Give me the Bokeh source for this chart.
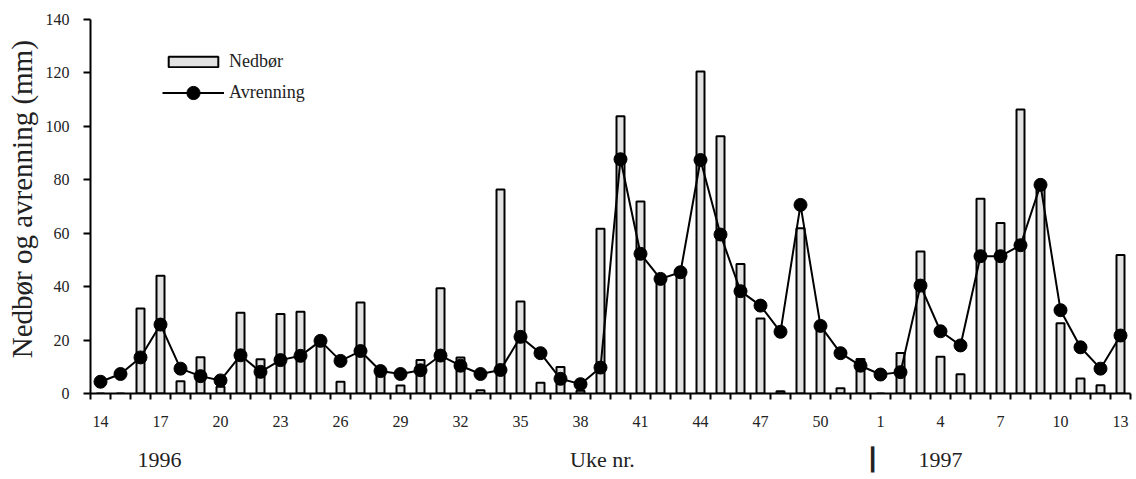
from bokeh.plotting import figure
from bokeh.models import Range1d, FixedTicker, Legend, LegendItem, ColumnDataSource, LinearAxis
from bokeh.embed import file_html
from bokeh.resources import INLINE

# Week numbers (1996 week 14 .. 1997 week 13)
weeks = [14, 15, 16, 17, 18, 19, 20, 21, 22, 23, 24, 25, 26, 27, 28, 29, 30, 31, 32, 33,
         34, 35, 36, 37, 38, 39, 40, 41, 42, 43, 44, 45, 46, 47, 48, 49, 50, 51, 52,
         1, 2, 3, 4, 5, 6, 7, 8, 9, 10, 11, 12, 13]

# Precipitation (mm)
nedbor = [0, 0, 31.8, 44.1, 4.6, 13.6, 2.5, 30.2, 12.8, 29.8, 30.6, 19.3, 4.4, 34.1, 7.5, 3.0,
          12.5, 39.4, 13.5, 1.2, 76.4, 34.4, 4.0, 9.9, 1.0, 61.7, 103.8, 71.9, 43.0, 45.0,
          120.5, 96.3, 48.5, 28.1, 0.8, 61.9, 23.8, 2.0, 12.9,
          0, 15.2, 53.2, 13.8, 7.2, 72.9, 63.8, 106.3, 77.0, 26.3, 5.6, 3.1, 51.8]

# Runoff (mm)
avrenning = [4.4, 7.3, 13.5, 25.8, 9.3, 6.5, 4.9, 14.3, 8.1, 12.5, 14.1, 19.7, 12.2, 15.9, 8.4,
             7.3, 8.7, 14.2, 10.4, 7.3, 8.8, 21.2, 15.1, 5.5, 3.5, 9.7, 87.7, 52.3, 42.9, 45.4,
             87.4, 59.5, 38.3, 32.9, 23.1, 70.6, 25.3, 15.1, 10.4,
             7.1, 8.0, 40.4, 23.3, 18.0, 51.4, 51.4, 55.5, 78.1, 31.2, 17.3, 9.3, 21.7]

y_ticks = [0, 20, 40, 60, 80, 100, 120, 140]
label_every = 3

# Texts under the axis: (position in week-slot units, text)
under_pos = [2.95, 25.1, 38.6, 42.0]
under_txt = ["1996", "Uke nr.", "\u2503", "1997"]

FONT = "Liberation Serif"

n = len(weeks)
xs = list(range(n))
src = ColumnDataSource(dict(x=xs, week=weeks, nedbor=nedbor, avrenning=avrenning))

p = figure(width=1136, height=479,
           x_range=Range1d(-0.5, n - 0.5), y_range=Range1d(0, 140),
           output_backend="svg", toolbar_location=None,
           min_border_left=90, min_border_right=6, min_border_top=19, min_border_bottom=86)

p.outline_line_color = None
p.xgrid.grid_line_color = None
p.ygrid.grid_line_color = None
p.background_fill_color = "white"
p.border_fill_color = "white"

bars = p.vbar(x="x", top="nedbor", width=0.4, bottom=0, source=src,
              fill_color="#e2e2e2", line_color="black", line_width=2)
line = p.line(x="x", y="avrenning", source=src, line_color="black", line_width=2)
dots = p.scatter(x="x", y="avrenning", source=src, size=13, marker="circle",
                 fill_color="black", line_color="black")

# X axis: minor ticks at week boundaries, labels every 3rd week
major = xs[::label_every]
xa = p.xaxis[0]
xa.ticker = FixedTicker(ticks=major, minor_ticks=[i - 0.5 for i in range(n + 1)])
xa.major_label_overrides = {i: str(weeks[i]) for i in major}
xa.major_tick_line_color = None
xa.major_tick_out = 0
xa.major_tick_in = 0
xa.minor_tick_out = 6
xa.minor_tick_in = 0
xa.minor_tick_line_color = "black"
xa.minor_tick_line_width = 2
xa.axis_line_width = 2
xa.axis_line_color = "black"
xa.major_label_standoff = 16
xa.major_label_text_font = FONT
xa.major_label_text_font_size = "16px"
xa.major_label_text_color = "#222222"

# Second row under the axis: years and axis title
xb = LinearAxis(ticker=FixedTicker(ticks=under_pos, minor_ticks=[]),
                major_label_overrides={v: t for v, t in zip(under_pos, under_txt)},
                axis_line_color=None, major_tick_line_color=None, minor_tick_line_color=None,
                major_tick_out=0, major_tick_in=0, major_label_standoff=17,
                major_label_text_font=FONT, major_label_text_font_size="22px",
                major_label_text_color="#222222")
p.add_layout(xb, "below")

# Y axis
p.yaxis.ticker = FixedTicker(ticks=y_ticks)
p.yaxis.minor_tick_line_color = None
p.yaxis.major_tick_out = 7
p.yaxis.major_tick_in = 0
p.yaxis.major_tick_line_width = 2
p.yaxis.axis_line_width = 2
p.yaxis.axis_line_color = "black"
p.yaxis.major_label_standoff = 14
p.yaxis.major_label_text_font = FONT
p.yaxis.major_label_text_font_size = "16px"
p.yaxis.major_label_text_color = "#222222"
p.yaxis.axis_label = "\u00a0\u00a0Nedbør og avrenning (mm)"
p.yaxis.axis_label_text_font = FONT
p.yaxis.axis_label_text_font_size = "29px"
p.yaxis.axis_label_text_font_style = "normal"
p.yaxis.axis_label_text_color = "#222222"
p.yaxis.axis_label_standoff = 5

# Legends
leg1 = Legend(items=[LegendItem(label="Nedbør", renderers=[bars])],
              location=(72, 321), glyph_width=62, glyph_height=13, label_height=13,
              label_standoff=5, padding=0, margin=0, spacing=0,
              border_line_color=None, background_fill_alpha=0,
              label_text_font=FONT, label_text_font_size="18px", label_text_color="#222222")
leg2 = Legend(items=[LegendItem(label="Avrenning", renderers=[line, dots])],
              location=(72, 284), glyph_width=62, glyph_height=33, label_height=33,
              label_standoff=5, padding=0, margin=0, spacing=0,
              border_line_color=None, background_fill_alpha=0,
              label_text_font=FONT, label_text_font_size="18px", label_text_color="#222222")
p.add_layout(leg1)
p.add_layout(leg2)

open("out.html", "w").write(file_html(p, INLINE))
